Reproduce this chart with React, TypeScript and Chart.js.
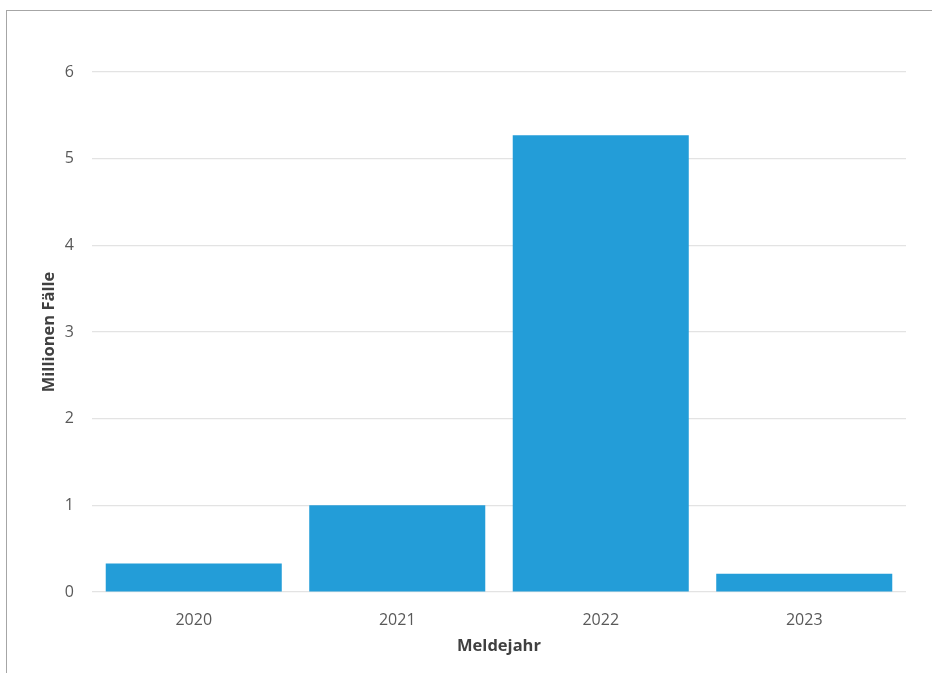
import React, { useEffect, useRef } from "react";
import { Chart, registerables } from "chart.js";

Chart.register(...registerables);

const categories = ["2020", "2021", "2022", "2023"];
const faelleMillionen = [0.33, 1.0, 5.27, 0.21];
const yTicks = [0, 1, 2, 3, 4, 5, 6];
const xTitle = "Meldejahr";
const yTitle = "Millionen Fälle";

const FONT = "'Open Sans', 'Liberation Sans', sans-serif";

export default function App() {
  const ref = useRef<HTMLCanvasElement | null>(null);

  useEffect(() => {
    if (!ref.current) return;
    const chart = new Chart(ref.current, {
      type: "bar",
      data: {
        labels: categories,
        datasets: [
          {
            label: yTitle,
            data: faelleMillionen,
            backgroundColor: "#239dd8",
            borderWidth: 0,
            categoryPercentage: 0.865,
            barPercentage: 1,
          },
        ],
      },
      options: {
        animation: false,
        responsive: false,
        maintainAspectRatio: false,
        layout: { padding: { top: 72, right: 26, left: 0, bottom: 0 } },
        plugins: { legend: { display: false }, tooltip: { enabled: false } },
        scales: {
          x: {
            grid: { display: false, drawTicks: false },
            border: { display: false },
            ticks: {
              color: "#595959",
              font: { family: FONT, size: 16 },
              padding: 19,
              maxRotation: 0,
            },
            title: {
              display: true,
              text: xTitle,
              color: "#404040",
              font: { family: FONT, size: 16.5, weight: "bold" },
              padding: { top: 0, bottom: 17 },
            },
            afterFit: (scale: any) => {
              scale.height = 81;
            },
          },
          y: {
            min: 0,
            max: 6,
            afterBuildTicks: (scale: any) => {
              scale.ticks = yTicks.map((v) => ({ value: v }));
            },
            grid: { color: "#e3e3e3", lineWidth: 1.2, drawTicks: false },
            border: { display: false },
            ticks: {
              color: "#595959",
              font: { family: FONT, size: 16 },
              padding: 18,
            },
            title: {
              display: true,
              text: yTitle,
              color: "#404040",
              font: { family: FONT, size: 16.5, weight: "bold" },
              padding: { top: 39, bottom: 0 },
            },
            afterFit: (scale: any) => {
              scale.width = 92;
            },
          },
        },
      },
    });
    return () => chart.destroy();
  }, []);

  return (
    <div
      style={{
        position: "absolute",
        left: 0,
        top: 0,
        width: 932,
        height: 673,
        background: "#ffffff",
        overflow: "hidden",
      }}
    >
      <div
        style={{
          position: "absolute",
          left: 6,
          top: 10,
          width: 1000,
          height: 800,
          borderTop: "1.5px solid #a6a6a6",
          borderLeft: "1.5px solid #a6a6a6",
        }}
      />
      <canvas
        ref={ref}
        width={932}
        height={673}
        style={{ position: "absolute", left: 0, top: 0, width: 932, height: 673 }}
      />
    </div>
  );
}
